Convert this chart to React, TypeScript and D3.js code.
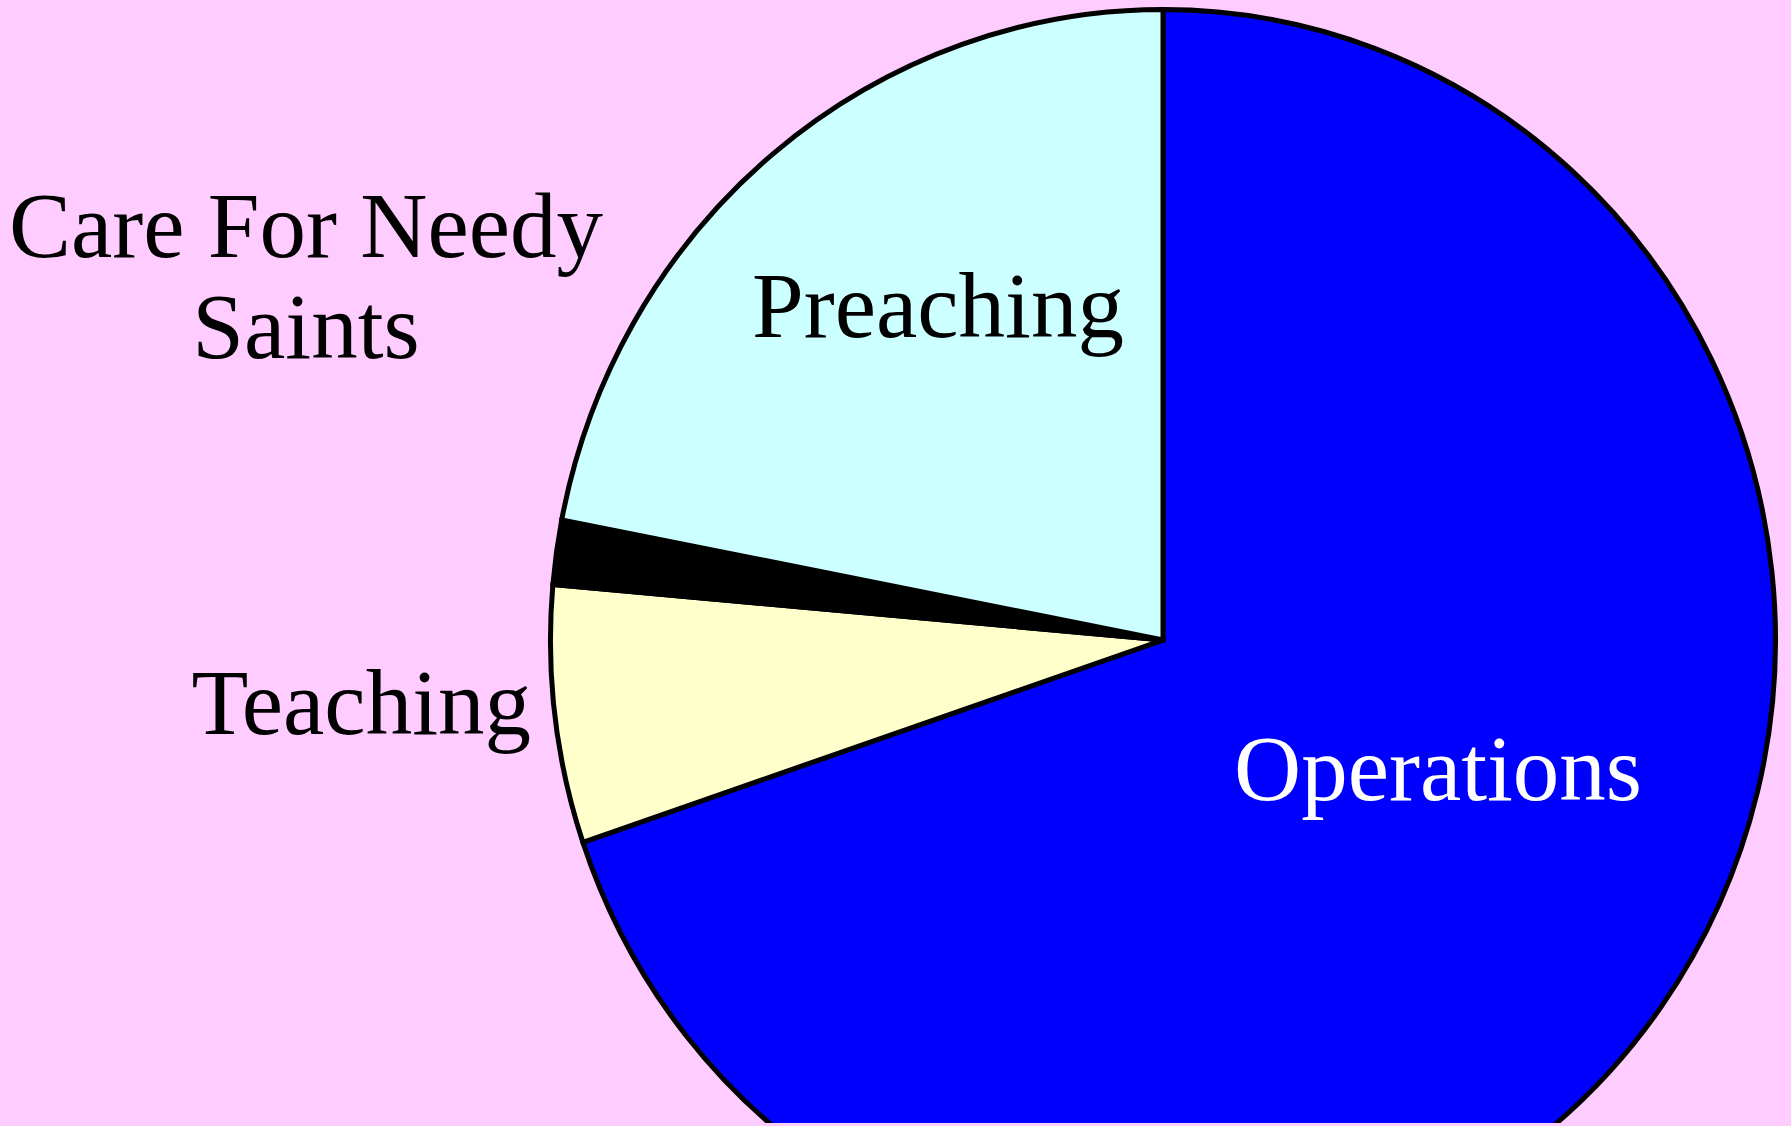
import React, { useEffect } from 'react';
import * as d3 from 'd3';

// slices, clockwise from 12 o'clock
const categories = ['Operations', 'Teaching', 'Care For Needy Saints', 'Preaching'];
const values = [69.8, 6.6, 1.65, 21.95];
const colors = ['#0000FF', '#FFFFCC', '#000000', '#CCFFFF'];

const W = 1791;
const H = 1126;
const cx = 1163;
const cy = 640;
const rx = 612.5;
const ry = 630.5;

// label layout (text only)
const labels = [
  { lines: ['Operations'], x: 1438, y: 800, anchor: 'middle', fill: '#ffffff' },
  { lines: ['Teaching'], x: 531, y: 734, anchor: 'end', fill: '#000000' },
  { lines: ['Care For Needy', 'Saints'], x: 306, y: 257, anchor: 'middle', fill: '#000000' },
  { lines: ['Preaching'], x: 938, y: 337, anchor: 'middle', fill: '#000000' },
];

const App = () => {
  useEffect(() => {
    document.body.style.margin = '0';
  }, []);

  const data = categories.map((c, i) => ({ name: c, value: values[i], color: colors[i] }));
  const pie = d3.pie<any>().sort(null).value(d => d.value).startAngle(0).endAngle(2 * Math.PI);
  const arc = d3.arc<any>().innerRadius(0).outerRadius(rx);
  const arcs = pie(data);

  return (
    <svg width={W} height={H} style={{ display: 'block', background: '#FFCCFF' }}>
      <rect x={0} y={0} width={W} height={H} fill="#FFCCFF" />
      <g transform={`translate(${cx},${cy}) scale(1,${ry / rx})`}>
        {arcs.map((a, i) => (
          <path
            key={i}
            d={arc(a) || ''}
            fill={a.data.color}
            stroke="#000"
            strokeWidth={5}
            strokeLinejoin="miter"
            vectorEffect="non-scaling-stroke"
          />
        ))}
      </g>
      <rect x={0} y={H - 3} width={W} height={3} fill="#FFCCFF" />
      {labels.map((l, i) => (
        <text
          key={i}
          x={l.x}
          y={l.y}
          textAnchor={l.anchor as any}
          fill={l.fill}
          fontFamily="'Liberation Serif', serif"
          fontSize={93}
        >
          {l.lines.map((t, j) => (
            <tspan key={j} x={l.x} dy={j === 0 ? 0 : 101}>{t}</tspan>
          ))}
        </text>
      ))}
    </svg>
  );
};

export default App;
